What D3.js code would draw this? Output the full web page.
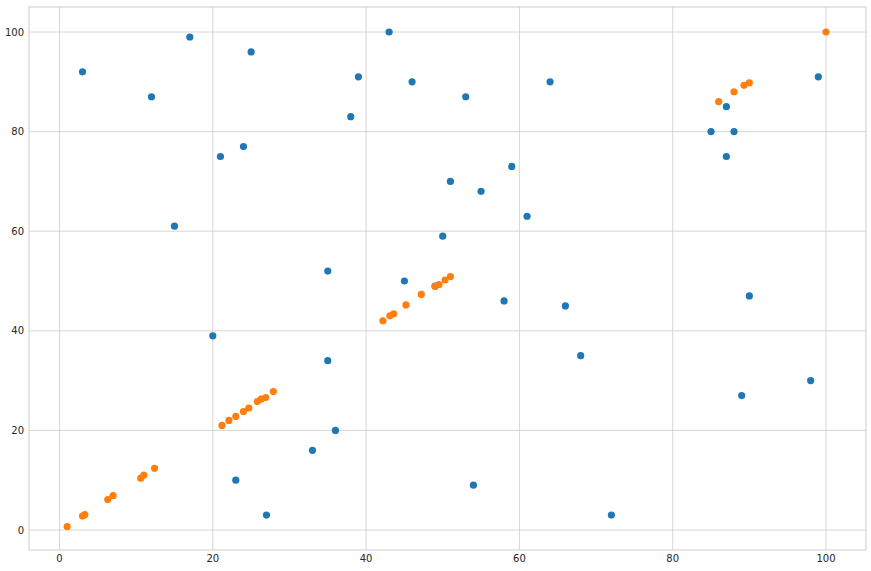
<!DOCTYPE html>
<html><head><meta charset="utf-8">
<script src="https://cdn.jsdelivr.net/npm/d3@7"></script>
<style>body{margin:0;background:#fff}</style>
</head><body><svg id="c" width="871" height="571"></svg>
<script>
// blue series
const blueX = [3,12,17,25,21,24,15,20,23,27,33,35,35,36,38,39,43,46,45,49,50,51,53,55,54,58,59,61,64,66,68,72,85,87,87,88,89,90,98,99];
const blueY = [92,87,99,96,75,77,61,39,10,3,16,34,52,20,83,91,100,90,50,49,59,70,87,68,9,46,73,63,90,45,35,3,80,85,75,80,27,47,30,91];
// orange series
const orangeX = [1,3,3.3,6.3,7,10.6,11,12.4,21.2,22.1,23,24,24.7,25.8,26.3,26.9,27.9,42.2,43.1,43.6,45.2,47.2,49,49.5,50.3,51,86,88,89.3,90,100];
const orangeY = [0.7,2.8,3.1,6.1,6.9,10.4,11,12.4,21,22,22.8,23.8,24.5,25.8,26.3,26.6,27.8,42,43,43.4,45.2,47.3,48.9,49.3,50.2,50.9,86,88,89.3,89.8,100];
const xTicks = [0,20,40,60,80,100];
const yTicks = [0,20,40,60,80,100];

const L = 29, R = 866, T = 7, B = 550;
const svg = d3.select("#c");
const x = d3.scaleLinear().domain([0,100]).range([59.5,826]);
const y = d3.scaleLinear().domain([0,100]).range([530,32]);

const g = svg.append("g");
g.selectAll(".gx").data(xTicks).enter().append("line")
  .attr("x1",d=>x(d)).attr("x2",d=>x(d)).attr("y1",T).attr("y2",B)
  .attr("stroke","#cccccc").attr("stroke-width",0.8);
g.selectAll(".gy").data(yTicks).enter().append("line")
  .attr("y1",d=>y(d)).attr("y2",d=>y(d)).attr("x1",L).attr("x2",R)
  .attr("stroke","#cccccc").attr("stroke-width",0.8);
svg.append("rect").attr("x",L).attr("y",T).attr("width",R-L).attr("height",B-T)
  .attr("fill","none").attr("stroke","#cccccc").attr("stroke-width",1);

const font = "DejaVu Sans, sans-serif";
svg.selectAll(".tx").data(xTicks).enter().append("text")
  .attr("x",d=>x(d)).attr("y",B+12).attr("text-anchor","middle")
  .attr("font-family",font).attr("font-size",10).attr("fill","#262626").text(d=>d);
svg.selectAll(".ty").data(yTicks).enter().append("text")
  .attr("x",L-5).attr("y",d=>y(d)+3.5).attr("text-anchor","end")
  .attr("font-family",font).attr("font-size",10).attr("fill","#262626").text(d=>d);

svg.selectAll(".b").data(blueX).enter().append("circle")
  .attr("cx",d=>x(d)).attr("cy",(d,i)=>y(blueY[i])).attr("r",3.6).attr("fill","#1f77b4");
svg.selectAll(".o").data(orangeX).enter().append("circle")
  .attr("cx",d=>x(d)).attr("cy",(d,i)=>y(orangeY[i])).attr("r",3.6).attr("fill","#ff7f0e");
</script></body></html>
